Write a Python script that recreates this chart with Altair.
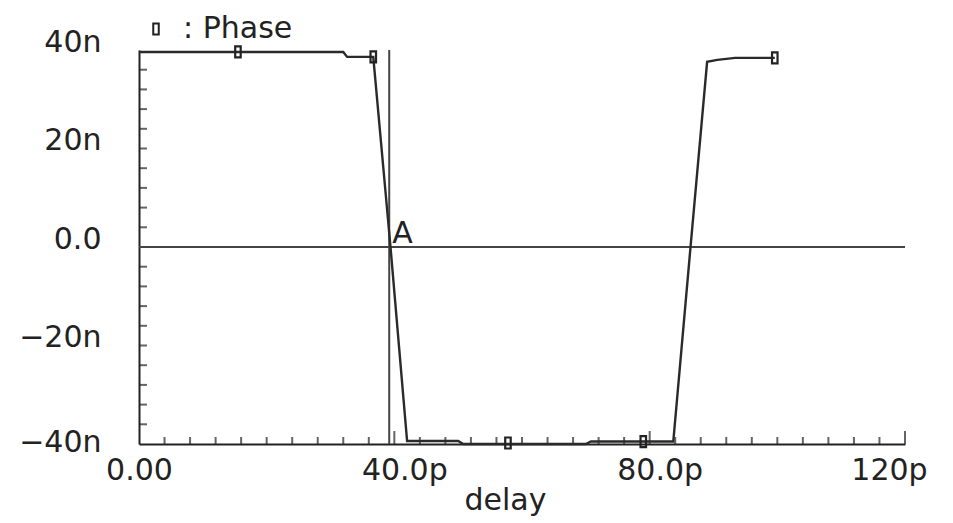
import altair as alt
import pandas as pd

# ---- data (x in ps, y in nano units) ----
phase_x = [0.0, 15.5, 32.0, 32.6, 36.7, 39.4, 42.0, 50.0, 50.8, 70.0, 70.8, 83.7, 86.4, 89.0, 90.6, 93.4, 99.6]
phase_y = [39.6, 39.6, 39.6, 38.6, 38.6, 0.0, -39.4, -39.4, -40.0, -40.0, -39.5, -39.5, 0.0, 37.6, 38.0, 38.4, 38.4]

marker_x = [15.5, 36.7, 57.8, 79.0, 99.6]
marker_y = [39.6, 38.6, -39.8, -39.5, 38.4]
series_name = "Phase"

cursor_x = [39.2]
cursor_label = ["A"]
zero_y = [0.0]

x_label_values = [0, 40, 80, 120]
x_label_text = ["0.00", "40.0p", "80.0p", "120p"]
y_label_values = [-40, -20, 0, 20, 40]
y_label_text = ["\u221240n", "\u221220n", "0.0", "20n", "40n"]

x_minor_ticks = [4, 8, 12, 16, 20, 24, 28, 32, 36, 44, 48, 52, 56, 60, 64, 68, 72, 76, 84, 88, 92, 96, 100, 104, 108, 112, 116]
x_major_ticks = [40, 80, 120]
y_minor_ticks = [-36, -32, -28, -24, -20, -16, -12, -8, -4, 4, 8, 12, 16, 20, 24, 28, 32, 36]

FONT = "DejaVu Sans"
INK = "#222222"
FS = 30


def label_expr(values, texts):
    parts = [f"datum.value == {v} ? '{t}'" for v, t in zip(values, texts)]
    return " : ".join(parts) + " : ''"


x_scale = alt.Scale(domain=[0, 120], nice=False, zero=False)
y_scale = alt.Scale(domain=[-40, 40], nice=False, zero=False)

x_axis = alt.Axis(
    values=x_label_values, labelExpr=label_expr(x_label_values, x_label_text),
    ticks=False, grid=False, domainColor=INK, domainWidth=2,
    labelFont=FONT, labelFontSize=FS, labelColor=INK, labelPadding=11,
    labelFlush=False, labelOverlap=False,
    labelOffset={"condition": [{"test": "datum.value == 120", "value": -16},
                               {"test": "datum.value == 0", "value": 0}],
                 "value": 10},
    title="delay", titleFont=FONT, titleFontSize=FS, titleFontWeight="normal",
    titleColor=INK, titlePadding=0, titleX=366, titleAlign="center",
)
y_axis = alt.Axis(
    values=y_label_values, labelExpr=label_expr(y_label_values, y_label_text),
    ticks=False, grid=False, domainColor=INK, domainWidth=2,
    labelFont=FONT, labelFontSize=FS, labelColor=INK, labelPadding=38,
    labelFlush=False, labelOverlap=False,
    labelOffset={"condition": {"test": "datum.value == -40", "value": -2}, "value": -8},
    title=None,
)

X = alt.X("x:Q", scale=x_scale, axis=x_axis)
Y = alt.Y("y:Q", scale=y_scale, axis=y_axis)

phase_df = pd.DataFrame({"x": phase_x, "y": phase_y})
marker_df = pd.DataFrame({"x": marker_x, "y": marker_y, "series": [series_name] * len(marker_x)})
cursor_df = pd.DataFrame({"x": cursor_x, "y": [0.0] * len(cursor_x), "label": cursor_label})
zero_df = pd.DataFrame({"y": zero_y})

xt_minor = pd.DataFrame({"x": x_minor_ticks, "y": [-40] * len(x_minor_ticks)})
xt_major = pd.DataFrame({"x": x_major_ticks, "y": [-40] * len(x_major_ticks)})
yt_minor = pd.DataFrame({"x": [0] * len(y_minor_ticks), "y": y_minor_ticks})

MARK_PATH = "M-0.5,-1H0.5V1H-0.5Z"

zero_line = alt.Chart(zero_df).mark_rule(color="#444444", strokeWidth=2).encode(y=Y)
cursor_line = alt.Chart(cursor_df).mark_rule(color="#444444", strokeWidth=2).encode(x=X)

line = alt.Chart(phase_df).mark_line(color="#2a2a2a", strokeWidth=2.4).encode(x=X, y=Y)

markers = alt.Chart(marker_df).mark_point(filled=False, size=121, strokeWidth=2.2, opacity=1).encode(
    x=X, y=Y,
    color=alt.value(INK),
    shape=alt.Shape("series:N", scale=alt.Scale(range=[MARK_PATH]),
                    legend=alt.Legend(orient="none", legendX=2, legendY=-36, title=None,
                                      labelExpr="': ' + datum.label",
                                      labelFont=FONT, labelFontSize=FS, labelColor=INK,
                                      labelOffset=12, symbolSize=121, symbolStrokeWidth=2,
                                      symbolStrokeColor=INK, symbolFillColor="white")),
)

cursor_text = alt.Chart(cursor_df).mark_text(
    align="left", baseline="bottom", dx=3, dy=2, font=FONT, fontSize=FS, color=INK
).encode(x=X, y=Y, text="label:N")

x_minor_layer = alt.Chart(xt_minor).mark_tick(orient="vertical", size=7, thickness=2, yOffset=-3.5, color=INK).encode(x=X, y=Y)
x_major_layer = alt.Chart(xt_major).mark_tick(orient="vertical", size=13, thickness=2, yOffset=-6.5, color=INK).encode(x=X, y=Y)
y_minor_layer = alt.Chart(yt_minor).mark_tick(orient="horizontal", size=8, thickness=2, xOffset=4, color=INK).encode(x=X, y=Y)

chart = alt.layer(
    zero_line, cursor_line, x_minor_layer, x_major_layer, y_minor_layer, line, markers, cursor_text
).properties(
    width=766, height=394,
    autosize=alt.AutoSizeParams(type="none"),
    padding={"left": 131, "top": 42, "right": 40, "bottom": 79},
).configure_view(stroke=None)

chart.save("out.html", embed_options={"renderer": "svg", "actions": False})
